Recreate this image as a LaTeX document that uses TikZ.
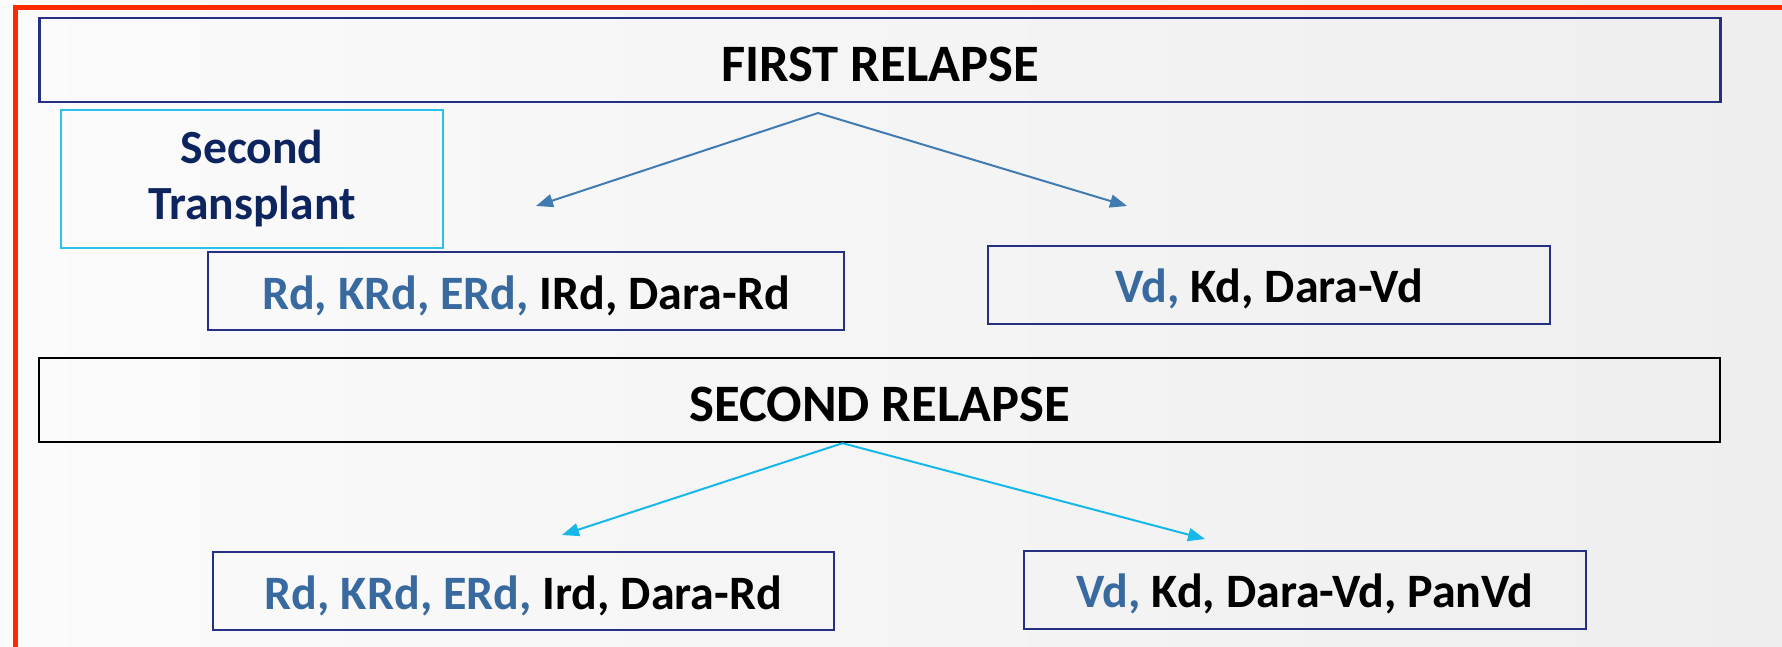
\documentclass[tikz,border=0pt]{standalone}
\usepackage{fontspec}
\setmainfont{Carlito}
\usetikzlibrary{arrows.meta, positioning, math, calc}

\definecolor{FrameRed}{RGB}{255,42,0}
\definecolor{BoxNavy}{RGB}{38,48,130}
\definecolor{TxtBlue}{RGB}{56,106,160}
\definecolor{TxtNavy}{RGB}{14,36,94}
\definecolor{ArrSteel}{RGB}{64,124,178}
\definecolor{ArrCyan}{RGB}{22,184,234}
\definecolor{LineCyan}{RGB}{44,192,236}
\definecolor{BgLight}{RGB}{251,251,251}
\definecolor{BgDark}{RGB}{238,238,238}

\newcommand{\bluetxt}[1]{\textcolor{TxtBlue}{#1}}

\begin{document}
\begin{tikzpicture}[x=0.5pt, y=-0.5pt]
		\tikzmath{
			\headW  = 840.5; %header width (pt)
			\headH  = 42;    %header height (pt)
			\boxH   = 39;    %drug box height (pt)
		}
		\tikzstyle{Base} = [
			text centered,
			inner sep=0pt,
			text depth=0pt,
		]
		\tikzstyle{HeadNode} = [
			Base,
			text height=21.7pt,
			minimum width=\headW pt,
			minimum height=\headH pt,
			line width=1.2pt,
			font=\bfseries\fontsize{26.3}{30}\selectfont
		]
		\tikzstyle{DrugNode} = [
			Base,
			text height=18.2pt,
			draw=BoxNavy,
			line width=1pt,
			minimum height=\boxH pt,
			font=\bfseries\fontsize{24}{28}\selectfont
		]
		\tikzstyle{SteelArrow} = [
			-{Triangle[length=8.5pt, width=6.5pt]},
			draw=ArrSteel, line width=1pt
		]
		\tikzstyle{CyanArrow} = [
			-{Triangle[length=8.5pt, width=6.5pt]},
			draw=ArrCyan, line width=1pt
		]

		\useasboundingbox (0,0) rectangle (1782,647);
		\shade[left color=BgLight, right color=BgDark] (0,0) rectangle (1782,647);
		\draw[FrameRed, line width=2.5pt] (15,660) -- (15,8) -- (1800,8);

		%%%%%%%%%%%%%%%%%%%%%%%%%%===---FIRST RELAPSE---===%%%%%%%%%%%%%%%%%%%%%%%%%%
		\node (first) [HeadNode, draw=BoxNavy] at (880,60) {FIRST RELAPSE};
		\node (transplant) [draw=LineCyan, line width=1pt, align=center, text=TxtNavy,
			minimum width=191pt, minimum height=68.5pt,
			font=\bfseries\fontsize{23.8}{28}\selectfont] at (252,179) {Second\\Transplant};
		\node (rd1) [DrugNode, minimum width=318pt] at (526,291)
			{\bluetxt{Rd, KRd, ERd,} IRd, Dara-Rd};
		\node (vd1) [DrugNode, minimum width=281pt] at (1269,284.5)
			{\bluetxt{Vd,} Kd, Dara-Vd};
		\coordinate (fork1) at (818,113);
		\coordinate (tip11) at (536,206);
		\coordinate (tip12) at (1127,206);
		\draw [SteelArrow] (fork1) -- (tip11);
		\draw [SteelArrow] (fork1) -- (tip12);

		%%%%%%%%%%%%%%%%%%%%%%%%%%===---SECOND RELAPSE---===%%%%%%%%%%%%%%%%%%%%%%%%%%
		\node (second) [HeadNode, draw=black] at (879.5,400) {SECOND RELAPSE};
		\node (rd2) [DrugNode, minimum width=310.5pt] at (523.5,591)
			{\bluetxt{Rd, KRd, ERd,} Ird, Dara-Rd};
		\node (vd2) [DrugNode, minimum width=281pt] at (1305,589.5)
			{\bluetxt{Vd,} Kd, Dara-Vd, PanVd};
		\coordinate (fork2) at ($(second.south)+(-37,0)$);
		\coordinate (tip21) at (562,535);
		\coordinate (tip22) at (1205,539);
		\draw [CyanArrow] (fork2) -- (tip21);
		\draw [CyanArrow] (fork2) -- (tip22);
\end{tikzpicture}
\end{document}
